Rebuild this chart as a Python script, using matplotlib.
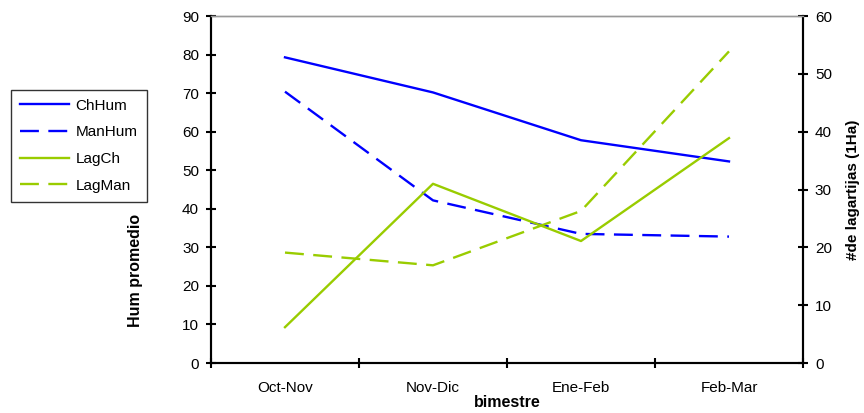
import matplotlib
matplotlib.use("Agg")
from matplotlib import pyplot as plt
from matplotlib.lines import Line2D

plt.rcParams['font.family'] = ['Liberation Sans', 'DejaVu Sans']

bimestres = ["Oct-Nov", "Nov-Dic", "Ene-Feb", "Feb-Mar"]
ch_hum = [79.3, 70.2, 57.8, 52.3]
man_hum = [70.4, 42.2, 33.5, 32.8]
lag_ch = [6.2, 31.0, 21.1, 38.9]
lag_man = [19.1, 16.9, 26.3, 53.9]

blue = "#0000FF"
green = "#99CC00"
lw = 1.7
dash = (0, (8, 4))

fig = plt.figure(figsize=(8.64, 4.13), dpi=100)
ax = fig.add_axes([0.2442, 0.121, 0.6852, 0.840])
ax2 = ax.twinx()

x = list(range(len(bimestres)))
ax.plot(x, ch_hum, color=blue, lw=lw, solid_joinstyle='round')
ax.plot(x, man_hum, color=blue, lw=lw, linestyle=dash)
ax2.plot(x, lag_ch, color=green, lw=lw, solid_joinstyle='round')
ax2.plot(x, lag_man, color=green, lw=lw, linestyle=dash)

ax.set_xlim(-0.5, 3.5)
ax.set_ylim(0, 90)
ax2.set_ylim(0, 60)
ax.set_yticks(range(0, 91, 10))
ax2.set_yticks(range(0, 61, 10))

# category boundaries get the tick marks, names sit between them
ax.set_xticks([-0.5, 0.5, 1.5, 2.5, 3.5])
ax.set_xticklabels([])
ax.set_xticks(x, minor=True)
ax.set_xticklabels(bimestres, minor=True, fontsize=11)
ax.tick_params(axis='x', which='minor', length=0, pad=13)
ax.tick_params(axis='x', which='major', direction='inout', length=7, width=1.5)
ax.tick_params(axis='y', direction='inout', length=7.2, width=1.5, labelsize=11, pad=5)
ax2.tick_params(axis='y', direction='inout', length=7.2, width=1.5, labelsize=11, pad=5)

for a in (ax, ax2):
    for s in ('left', 'right', 'bottom'):
        a.spines[s].set_linewidth(1.5)
    a.spines['top'].set_color('#999999')
    a.spines['top'].set_linewidth(1)

# left title sits low, below the legend box
ax.set_ylabel("Hum promedio", fontsize=11.5, fontweight='bold')
ax.yaxis.set_label_coords(-0.114, 0.268)
ax2.set_ylabel("#de lagartijas (1Ha)", fontsize=11, fontweight='bold', labelpad=10)
ax.set_xlabel("bimestre", fontsize=11.5, fontweight='bold', labelpad=0)

handles = [
    Line2D([], [], color=blue, lw=lw),
    Line2D([], [], color=blue, lw=lw, linestyle=dash),
    Line2D([], [], color=green, lw=lw),
    Line2D([], [], color=green, lw=lw, linestyle=dash),
]
leg = fig.legend(handles, ["ChHum", "ManHum", "LagCh", "LagMan"],
                 loc='upper left', bbox_to_anchor=(0.013, 0.783),
                 fontsize=11, frameon=True, fancybox=False,
                 edgecolor='black', handlelength=3.2, handletextpad=0.4,
                 labelspacing=0.83, borderpad=0.6, borderaxespad=0)
leg.get_frame().set_linewidth(1)

fig.savefig("out.png", dpi=100)
